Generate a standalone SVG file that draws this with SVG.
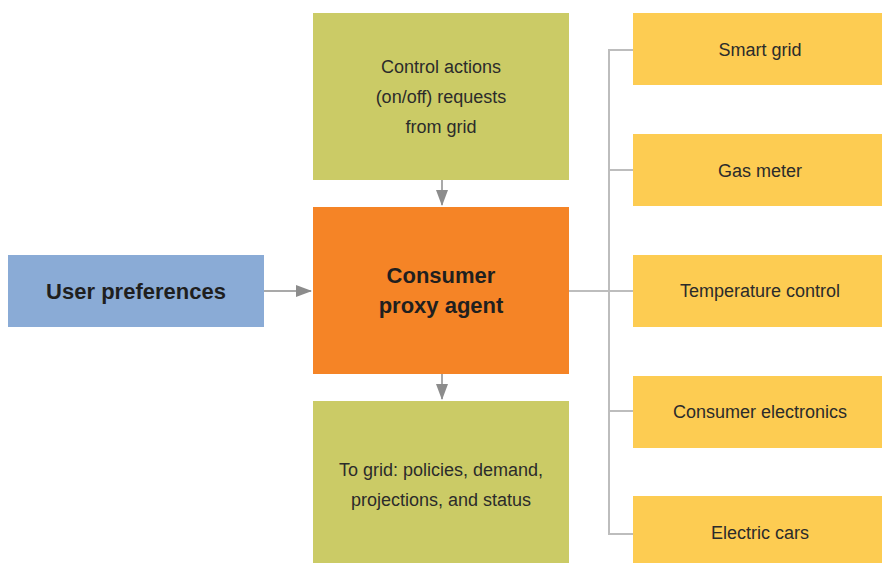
<svg xmlns="http://www.w3.org/2000/svg" width="882" height="563" viewBox="0 0 882 563">
<defs>
<style>
.t{font-family:"Liberation Sans",Arial,sans-serif;font-size:18px;fill:#2b2b2b;text-anchor:middle}
.b{font-family:"Liberation Sans",Arial,sans-serif;font-size:22px;font-weight:bold;fill:#1f1f1f;text-anchor:middle}
.y{fill:#fdcc52}
.g{fill:#cbcb66}
.l{stroke:#bdbdbd;stroke-width:2;fill:none}
.a{stroke:#8c8c8c;stroke-width:1.5;fill:none}
</style>
<marker id="ah" markerWidth="16" markerHeight="14" refX="15" refY="6" orient="auto" markerUnits="userSpaceOnUse" viewBox="0 0 16 12">
<path d="M0,0 L16,6 L0,12 z" fill="#8c8c8c"/>
</marker>
</defs>
<rect width="882" height="563" fill="#ffffff"/>
<g id="connectors">
<path class="l" d="M633,50 H609 V534 H633"/>
<path class="l" d="M609,170 H633 M609,411 H633 M569,291 H633"/>
<path class="a" d="M264,291 H311" marker-end="url(#ah)"/>
<path class="a" d="M442,180 V205" marker-end="url(#ah)"/>
<path class="a" d="M442,374 V399" marker-end="url(#ah)"/>
</g>
<g id="user-preferences">
<rect x="8" y="255" width="256" height="72" fill="#8aabd6"/>
<text class="b" x="136" y="299">User preferences</text>
</g>
<g id="control-actions">
<rect class="g" x="313" y="13" width="256" height="167"/>
<text class="t" x="441" y="73">Control actions</text>
<text class="t" x="441" y="103">(on/off) requests</text>
<text class="t" x="441" y="133">from grid</text>
</g>
<g id="consumer-proxy-agent">
<rect x="313" y="207" width="256" height="167" fill="#f58426"/>
<text class="b" x="441" y="283">Consumer</text>
<text class="b" x="441" y="313">proxy agent</text>
</g>
<g id="to-grid">
<rect class="g" x="313" y="401" width="256" height="162"/>
<text class="t" x="441" y="476">To grid: policies, demand,</text>
<text class="t" x="441" y="506">projections, and status</text>
</g>
<g id="smart-grid">
<rect class="y" x="633" y="13" width="249" height="72"/>
<text class="t" x="760" y="56">Smart grid</text>
</g>
<g id="gas-meter">
<rect class="y" x="633" y="134" width="249" height="72"/>
<text class="t" x="760" y="177">Gas meter</text>
</g>
<g id="temperature-control">
<rect class="y" x="633" y="255" width="249" height="72"/>
<text class="t" x="760" y="297">Temperature control</text>
</g>
<g id="consumer-electronics">
<rect class="y" x="633" y="376" width="249" height="72"/>
<text class="t" x="760" y="418">Consumer electronics</text>
</g>
<g id="electric-cars">
<rect class="y" x="633" y="496" width="249" height="67"/>
<text class="t" x="760" y="539">Electric cars</text>
</g>
</svg>
